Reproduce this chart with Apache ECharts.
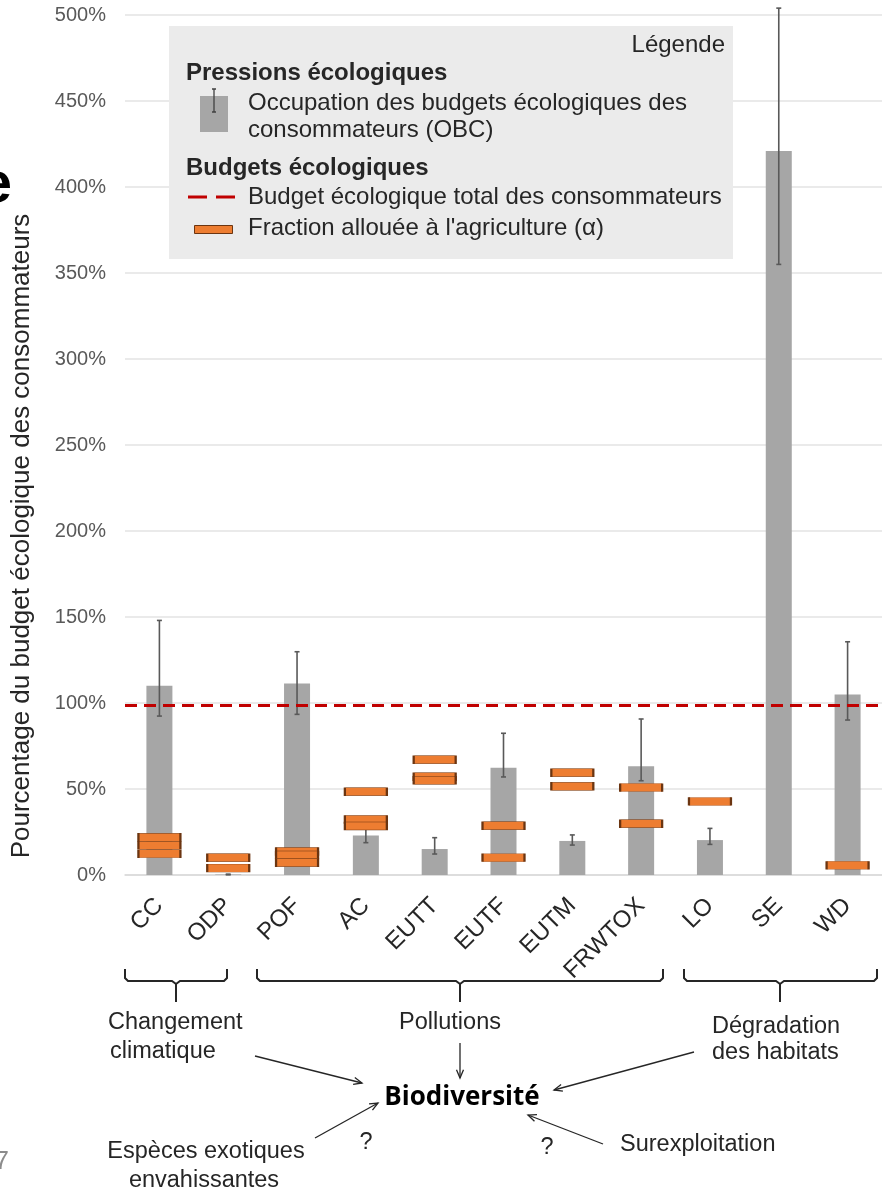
<!DOCTYPE html>
<html>
<head>
<meta charset="utf-8">
<style>
  html, body { margin: 0; padding: 0; background: #fff; }
  #main { width: 882px; height: 1187px; }
</style>
<script src="https://cdn.jsdelivr.net/npm/echarts@6/dist/echarts.min.js"></script>
</head>
<body>
<div id="main"></div>
<script>
// categories and values (in %)
var categories = ['CC', 'ODP', 'POF', 'AC', 'EUTT', 'EUTF', 'EUTM', 'FRWTOX', 'LO', 'SE', 'WD'];
var obcValues = [110, 0.3, 111.4, 22.9, 15.1, 62.4, 19.8, 63.2, 20.3, 421, 105];
var obcLow    = [92.4, 0.1, 93.4, 18.8, 12.2, 57, 17.4, 54.8, 17.8, 355, 90.1];
var obcHigh   = [148, 0.5, 129.8, 26.7, 21.7, 82.4, 23.3, 90.7, 27.1, 504, 135.6];
// fraction allouee a l'agriculture (alpha), up to 3 per category
var alphaA = [21.9, 10, 13.7, 48.4, 67, 28.6, 59.5, 50.8, 42.8, null, 5.6];
var alphaB = [17.3, 4, 11.6, 32.3, 57.1, 10.1, 51.6, 29.8, null, null, null];
var alphaC = [12.3, null, 7.1, 28.5, 55.1, null, null, null, null, null, null];
var budgetTotal = 98.5;
var yTicks = { min: 0, max: 500, interval: 50 };

var FONT = '"Liberation Sans", Arial, sans-serif';
var TXT = '#262626';

function alphaData(arr) {
  var out = [];
  for (var i = 0; i < arr.length; i++) {
    if (arr[i] != null) out.push([i, arr[i]]);
  }
  return out;
}

function alphaSeries(arr) {
  return {
    type: 'scatter',
    data: alphaData(arr),
    symbol: 'rect',
    symbolSize: [42, 8],
    itemStyle: { color: '#ed7d31', borderColor: '#6b3511', borderWidth: 1, opacity: 1 },
    z: 5,
    silent: true
  };
}

function errRender(params, api) {
  var lo = api.coord([api.value(0), api.value(1)]);
  var hi = api.coord([api.value(0), api.value(2)]);
  var c = 2.5;
  var st = { stroke: '#595959', lineWidth: 1.6 };
  return {
    type: 'group',
    children: [
      { type: 'line', shape: { x1: lo[0], y1: lo[1], x2: hi[0], y2: hi[1] }, style: st },
      { type: 'line', shape: { x1: lo[0] - c, y1: lo[1], x2: lo[0] + c, y2: lo[1] }, style: st },
      { type: 'line', shape: { x1: hi[0] - c, y1: hi[1], x2: hi[0] + c, y2: hi[1] }, style: st }
    ]
  };
}

// small helpers for the drawn annotations
function txt(x, y, s, opt) {
  opt = opt || {};
  return {
    type: 'text', x: x, y: y, z: 100,
    rotation: opt.rot || 0,
    style: {
      text: s,
      fontFamily: opt.family || FONT,
      fontSize: opt.size || 23.5,
      fontWeight: opt.bold ? 'bold' : 'normal',
      fill: opt.color || TXT,
      textAlign: opt.align || 'left',
      textVerticalAlign: 'middle'
    }
  };
}

function arrow(x1, y1, x2, y2) {
  var a = Math.atan2(y2 - y1, x2 - x1), L = 9, w = 0.4;
  return [
    { type: 'line', z: 100, shape: { x1: x1, y1: y1, x2: x2, y2: y2 }, style: { stroke: '#262626', lineWidth: 1.3 } },
    { type: 'polyline', z: 100, shape: { points: [
        [x2 - L * Math.cos(a - w), y2 - L * Math.sin(a - w)], [x2, y2],
        [x2 - L * Math.cos(a + w), y2 - L * Math.sin(a + w)] ] },
      style: { stroke: '#262626', lineWidth: 1.3, fill: null } }
  ];
}

function brace(L, C, R) {
  var t = 969, b = 981, tip = 1002;
  var st = { stroke: '#262626', lineWidth: 2, fill: null };
  return [
    { type: 'polyline', z: 100, shape: { points: [[L, t], [L, b - 3], [L + 3, b], [C - 4, b], [C, b + 3], [C, tip]] }, style: st },
    { type: 'polyline', z: 100, shape: { points: [[C, b + 3], [C + 4, b], [R - 3, b], [R, b - 3], [R, t]] }, style: st }
  ];
}

var graphics = [];
// legend box
graphics.push({ type: 'rect', z: 90, shape: { x: 169, y: 26, width: 564, height: 233 }, style: { fill: '#ebebeb' } });
graphics.push(txt(725, 45, 'Légende', { size: 24, align: 'right' }));
graphics.push(txt(186, 73, 'Pressions écologiques', { size: 24, bold: true }));
graphics.push({ type: 'rect', z: 100, shape: { x: 200, y: 96, width: 28, height: 36 }, style: { fill: '#a6a6a6' } });
graphics.push({ type: 'polyline', z: 101, shape: { points: [[212, 89], [216, 89], [214, 89], [214, 112], [212, 112], [216, 112]] }, style: { stroke: '#404040', lineWidth: 1.3, fill: null } });
graphics.push(txt(248, 103, 'Occupation des budgets écologiques des', { size: 24 }));
graphics.push(txt(248, 130, 'consommateurs (OBC)', { size: 24 }));
graphics.push(txt(186, 168, 'Budgets écologiques', { size: 24, bold: true }));
graphics.push({ type: 'line', z: 100, shape: { x1: 188, y1: 197, x2: 237, y2: 197 }, style: { stroke: '#c00000', lineWidth: 3, lineDash: [19, 9] } });
graphics.push(txt(248, 197, 'Budget écologique total des consommateurs', { size: 24 }));
graphics.push({ type: 'rect', z: 100, shape: { x: 194.5, y: 225.5, width: 38, height: 8 }, style: { fill: '#ed7d31', stroke: '#6b3511', lineWidth: 1 } });
graphics.push(txt(248, 228, "Fraction allouée à l'agriculture (α)", { size: 24 }));

// y axis title and cropped slide text
graphics.push(txt(22, 536, 'Pourcentage du budget écologique des consommateurs', { size: 26, align: 'center', rot: Math.PI / 2 }));
graphics.push(txt(12, 186, 'e', { size: 58, bold: true, align: 'right', color: '#000' }));
graphics.push(txt(9, 1162, '7', { size: 26, align: 'right', color: '#8c8c8c' }));

// braces under the categories
graphics = graphics.concat(brace(125, 176, 227), brace(257, 460, 663), brace(684, 780, 877));

// schema below
graphics.push(txt(108, 1023, 'Changement'));
graphics.push(txt(110, 1052, 'climatique'));
graphics.push(txt(450, 1023, 'Pollutions', { align: 'center' }));
graphics.push(txt(712, 1027, 'Dégradation'));
graphics.push(txt(712, 1053, 'des habitats'));
graphics.push(txt(462, 1098, 'Biodiversité', { align: 'center', bold: true, size: 26, family: '"Open Sans", "Noto Sans", sans-serif', color: '#000' }));
graphics.push(txt(206, 1152, 'Espèces exotiques', { align: 'center' }));
graphics.push(txt(204, 1181, 'envahissantes', { align: 'center' }));
graphics.push(txt(366, 1143, '?', { align: 'center' }));
graphics.push(txt(547, 1148, '?', { align: 'center' }));
graphics.push(txt(620, 1145, 'Surexploitation'));
graphics = graphics.concat(
  arrow(460, 1043, 460, 1078),
  arrow(255, 1056, 362, 1083),
  arrow(694, 1052, 554, 1090),
  arrow(315, 1138, 378, 1103),
  arrow(603, 1144, 528, 1115)
);

var myChart = echarts.init(document.getElementById('main'));
var option = {
  animation: false,
  backgroundColor: '#ffffff',
  grid: { left: 125, top: 15, height: 860, width: 774 },
  xAxis: {
    type: 'category',
    data: categories,
    axisLine: { lineStyle: { color: '#d9d9d9', width: 1.5 } },
    axisTick: { show: false },
    axisLabel: { interval: 0, rotate: 45, margin: 27, fontSize: 24, fontFamily: FONT, color: TXT }
  },
  yAxis: {
    type: 'value',
    min: yTicks.min,
    max: yTicks.max,
    interval: yTicks.interval,
    axisLine: { show: false },
    axisTick: { show: false },
    splitLine: { lineStyle: { color: '#e3e3e3', width: 1.5 } },
    axisLabel: { formatter: '{value}%', fontSize: 20, fontFamily: FONT, color: '#595959', margin: 19 }
  },
  series: [
    {
      type: 'bar',
      data: obcValues,
      barWidth: 26,
      itemStyle: { color: '#a6a6a6' },
      silent: true,
      markLine: {
        silent: true,
        symbol: 'none',
        label: { show: false },
        lineStyle: { color: '#c00000', width: 3, type: [12, 7] },
        data: [{ yAxis: budgetTotal }]
      }
    },
    {
      type: 'custom',
      renderItem: errRender,
      data: categories.map(function (c, i) { return [i, obcLow[i], obcHigh[i]]; }),
      z: 3,
      silent: true
    },
    alphaSeries(alphaA),
    alphaSeries(alphaB),
    alphaSeries(alphaC)
  ],
  graphic: graphics
};
myChart.setOption(option);
</script>
</body>
</html>
